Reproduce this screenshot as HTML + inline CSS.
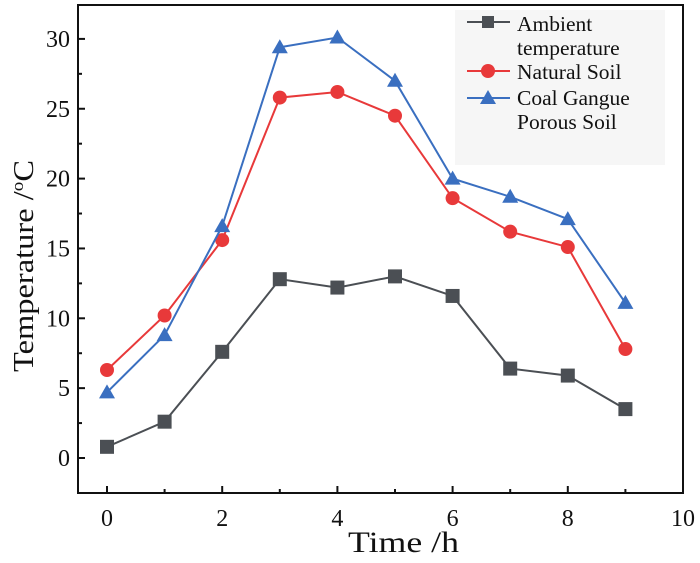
<!DOCTYPE html>
<html><head><meta charset="utf-8"><style>
body{margin:0;background:#fff;width:700px;height:558px;overflow:hidden}
svg text{font-family:"Liberation Serif",serif;fill:#111}
</style></head><body>
<svg id="chart" width="700" height="558">
<rect x="455" y="10" width="210" height="155" fill="#f6f6f6"/>
<g id="axes"></g>
<g id="series"></g>
<g id="legend">
 <line x1="467" y1="22" x2="510" y2="22" stroke="#4b4f54" stroke-width="2"/><rect x="482" y="16" width="12" height="12" fill="#4b4f54"/>
 <text x="517" y="31" font-size="21.5">Ambient</text>
 <text x="517" y="55" font-size="21.5">temperature</text>
 <line x1="467" y1="71" x2="510" y2="71" stroke="#e8393a" stroke-width="2"/><circle cx="488" cy="71" r="7" fill="#e8393a"/>
 <text x="517" y="79" font-size="21.5">Natural Soil</text>
 <line x1="467" y1="98" x2="510" y2="98" stroke="#3a6fc0" stroke-width="2"/><polygon points="488,90 496,104 480,104" fill="#3a6fc0"/>
 <text x="517" y="105" font-size="21.5">Coal Gangue</text>
 <text x="517" y="129" font-size="21.5">Porous Soil</text>
</g>
<rect x="78" y="5" width="605" height="488" fill="none" stroke="#111" stroke-width="2"/>
<text x="348" y="552" font-size="30" textLength="111" lengthAdjust="spacingAndGlyphs">Time /h</text>
<text transform="translate(33,372) rotate(-90)" font-size="29" textLength="212" lengthAdjust="spacingAndGlyphs">Temperature /<tspan font-size="17" dy="-10">o</tspan><tspan dy="10">C</tspan></text>
</svg>
<script>
const hours=[0,1,2,3,4,5,6,7,8,9];
const ambient=[0.8,2.6,7.6,12.8,12.2,13.0,11.6,6.4,5.9,3.5];
const natural=[6.3,10.2,15.6,25.8,26.2,24.5,18.6,16.2,15.1,7.8];
const coal=[4.7,8.8,16.6,29.4,30.1,27.0,20.0,18.7,17.1,11.1];
const xTicks=[0,2,4,6,8,10];
const yTicks=[0,5,10,15,20,25,30];
const NS="http://www.w3.org/2000/svg";
const X=v=>107+v*57.6, Y=v=>458-v*13.97;
function mk(t,a,p){const e=document.createElementNS(NS,t);for(const k in a)e.setAttribute(k,a[k]);p.appendChild(e);return e;}
const ax=document.getElementById('axes');
for(let v=0;v<=10;v++){const big=v%2==0;const l=mk('line',{x1:X(v),x2:X(v),y1:493,y2:big?486:489,stroke:'#111','stroke-width':2},ax);

}
xTicks.forEach(v=>{const t=mk('text',{x:X(v),y:526,'font-size':24,'text-anchor':'middle'},ax);t.textContent=v;

});
for(let v=0;v<=30;v+=2.5){const big=v%5==0;const l=mk('line',{x1:78,x2:big?85:82,y1:Y(v),y2:Y(v),stroke:'#111','stroke-width':2},ax);

}
yTicks.forEach(v=>{const t=mk('text',{x:70,y:Y(v)+8,'font-size':24,'text-anchor':'end'},ax);t.textContent=v;

});
const sg=document.getElementById('series');
function series(vals,color,shape,name){
 const pl=mk('polyline',{points:vals.map((v,i)=>X(hours[i])+','+Y(v)).join(' '),fill:'none',stroke:color,'stroke-width':2},sg);
 
 
 vals.forEach((v,i)=>{const x=X(hours[i]),y=Y(v);let m;
  if(shape=='sq')m=mk('rect',{x:x-7,y:y-7,width:14,height:14,fill:color},sg);
  else if(shape=='c')m=mk('circle',{cx:x,cy:y,r:7,fill:color},sg);
  else m=mk('polygon',{points:`${x},${y-8} ${x+8},${y+6} ${x-8},${y+6}`,fill:color},sg);
  
  });
}
series(ambient,'#4b4f54','sq','ambient');
series(natural,'#e8393a','c','natural-soil');
series(coal,'#3a6fc0','t','coal-gangue');
</script>
</body></html>
